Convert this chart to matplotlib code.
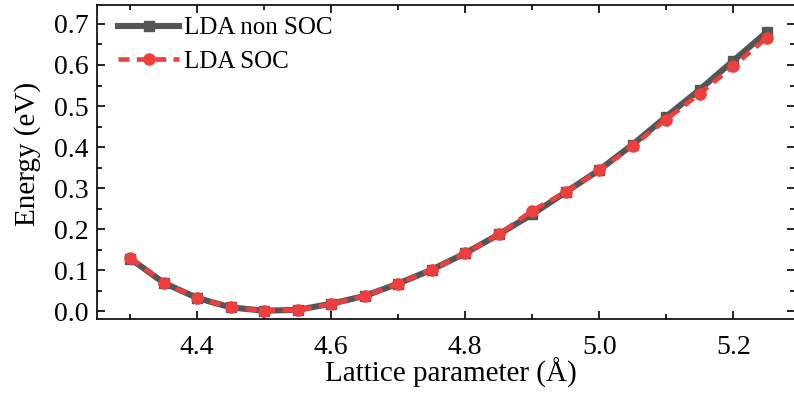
import matplotlib.pyplot as plt
from matplotlib.ticker import MultipleLocator

# lattice parameter (Angstrom) and relative energies (eV)
lattice = [4.30, 4.35, 4.40, 4.45, 4.50, 4.55, 4.60, 4.65, 4.70, 4.75,
           4.80, 4.85, 4.90, 4.95, 5.00, 5.05, 5.10, 5.15, 5.20, 5.25]
e_nosoc = [0.128, 0.069, 0.032, 0.009, 0.001, 0.003, 0.018, 0.037, 0.067, 0.101,
           0.141, 0.187, 0.236, 0.290, 0.344, 0.406, 0.474, 0.540, 0.610, 0.680]
e_soc = [0.129, 0.069, 0.032, 0.009, 0.001, 0.003, 0.017, 0.037, 0.067, 0.101,
         0.141, 0.187, 0.245, 0.290, 0.343, 0.403, 0.467, 0.530, 0.597, 0.666]

plt.rcParams['font.family'] = 'serif'
plt.rcParams['font.serif'] = ['Liberation Serif', 'DejaVu Serif']

fig = plt.figure(figsize=(7.94, 4.01), dpi=100)
ax = fig.add_axes([96.7 / 794, (401 - 319.3) / 401, (795.5 - 96.7) / 794, (319.3 - 4.7) / 401])

ax.plot(lattice, e_nosoc, color='#555555', lw=4.4, marker='s', ms=7,
        label='LDA non SOC', zorder=2)
ax.plot(lattice, e_soc, color='#EF3E3E', lw=3.3, ls=(0, (2.4, 1.6)), marker='o', ms=8,
        label='LDA SOC', zorder=3)

ax.set_xlim(4.25, 5.293)
ax.set_ylim(-0.02, 0.747)
ax.xaxis.set_major_locator(MultipleLocator(0.2))
ax.xaxis.set_minor_locator(MultipleLocator(0.1))
ax.yaxis.set_major_locator(MultipleLocator(0.1))
ax.yaxis.set_minor_locator(MultipleLocator(0.05))
ax.tick_params(which='both', direction='in', top=True, right=True, width=1.2)
ax.tick_params(which='major', length=6, labelsize=20)
ax.tick_params(which='minor', length=3.5)
ax.tick_params(axis='x', which='major', pad=11.5)
ax.tick_params(axis='y', which='major', pad=6)
ax.xaxis.set_major_formatter(plt.FuncFormatter(lambda v, p: f'{v:.1f}'))
ax.yaxis.set_major_formatter(plt.FuncFormatter(lambda v, p: f'{v:.1f}'))
for s in ax.spines.values():
    s.set_linewidth(1.2)

ax.set_xlabel('Lattice parameter (Å)', fontsize=21)
ax.set_ylabel('Energy (eV)', fontsize=21)
ax.xaxis.set_label_coords(0.507, -0.123)
ax.yaxis.set_label_coords(-0.0793, 0.525)

ax.legend(loc='upper left', bbox_to_anchor=(0.02, 0.985), frameon=False, fontsize=18,
          handlelength=2.45, handletextpad=0.2, labelspacing=0.45, borderpad=0.3,
          borderaxespad=0)

fig.savefig('out.png', dpi=100)
